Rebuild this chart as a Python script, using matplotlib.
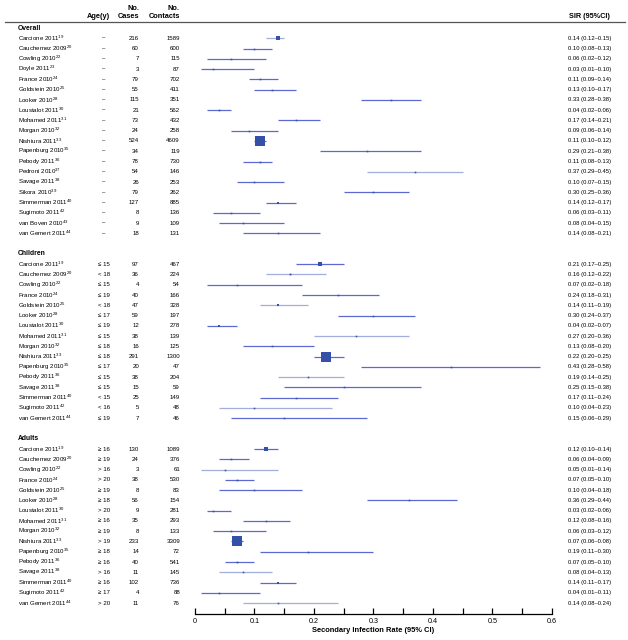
import numpy as np
from matplotlib import pyplot as plt
from matplotlib.lines import Line2D
from matplotlib.transforms import blended_transform_factory

plt.rcParams['font.family'] = ['Liberation Sans', 'DejaVu Sans']
plt.rcParams['mathtext.fontset'] = 'custom'
plt.rcParams['mathtext.rm'] = 'Liberation Sans'
plt.rcParams['mathtext.it'] = 'Liberation Sans:italic'
plt.rcParams['mathtext.bf'] = 'Liberation Sans:bold'

# ---- data ----
overall_study = ["Carcione 2011$^{19}$", "Cauchemez 2009$^{20}$", "Cowling 2010$^{22}$", "Doyle 2011$^{23}$",
                 "France 2010$^{24}$", "Goldstein 2010$^{25}$", "Looker 2010$^{28}$", "Loustalot 2011$^{30}$",
                 "Mohamed 2011$^{31}$", "Morgan 2010$^{32}$", "Nishiura 2011$^{33}$", "Papenburg 2010$^{35}$",
                 "Pebody 2011$^{36}$", "Pedroni 2010$^{37}$", "Savage 2011$^{38}$", "Sikora 2010$^{39}$",
                 "Simmerman 2011$^{40}$", "Sugimoto 2011$^{42}$", "van Boven 2010$^{43}$", "van Gemert 2011$^{44}$"]
overall_age = ["–"] * 20
overall_cases = [216, 60, 7, 3, 79, 55, 115, 21, 73, 24, 524, 34, 78, 54, 26, 79, 127, 8, 9, 18]
overall_contacts = [1589, 600, 115, 87, 702, 411, 351, 562, 432, 258, 4609, 119, 730, 146, 253, 262, 885, 136, 109, 131]
overall_sir = [0.14, 0.10, 0.06, 0.03, 0.11, 0.13, 0.33, 0.04, 0.17, 0.09, 0.11, 0.29, 0.11, 0.37, 0.10, 0.30, 0.14, 0.06, 0.08, 0.14]
overall_lo = [0.12, 0.08, 0.02, 0.01, 0.09, 0.10, 0.28, 0.02, 0.14, 0.06, 0.10, 0.21, 0.08, 0.29, 0.07, 0.25, 0.12, 0.03, 0.04, 0.08]
overall_hi = [0.15, 0.13, 0.12, 0.10, 0.14, 0.17, 0.38, 0.06, 0.21, 0.14, 0.12, 0.38, 0.13, 0.45, 0.15, 0.36, 0.17, 0.11, 0.15, 0.21]

sub_study = ["Carcione 2011$^{19}$", "Cauchemez 2009$^{20}$", "Cowling 2010$^{22}$", "France 2010$^{24}$",
             "Goldstein 2010$^{25}$", "Looker 2010$^{28}$", "Loustalot 2011$^{30}$", "Mohamed 2011$^{31}$",
             "Morgan 2010$^{32}$", "Nishiura 2011$^{33}$", "Papenburg 2010$^{35}$", "Pebody 2011$^{36}$",
             "Savage 2011$^{38}$", "Simmerman 2011$^{40}$", "Sugimoto 2011$^{42}$", "van Gemert 2011$^{44}$"]

children_age = ["≤ 15", "< 18", "≤ 15", "≤ 19", "< 18", "≤ 17", "≤ 19", "≤ 15",
                "≤ 18", "≤ 18", "≤ 17", "≤ 15", "≤ 15", "< 15", "< 16", "≤ 19"]
children_cases = [97, 36, 4, 40, 47, 59, 12, 38, 16, 291, 20, 38, 15, 25, 5, 7]
children_contacts = [467, 224, 54, 166, 328, 197, 278, 139, 125, 1300, 47, 204, 59, 149, 48, 46]
children_sir = [0.21, 0.16, 0.07, 0.24, 0.14, 0.30, 0.04, 0.27, 0.13, 0.22, 0.43, 0.19, 0.25, 0.17, 0.10, 0.15]
children_lo = [0.17, 0.12, 0.02, 0.18, 0.11, 0.24, 0.02, 0.20, 0.08, 0.20, 0.28, 0.14, 0.15, 0.11, 0.04, 0.06]
children_hi = [0.25, 0.22, 0.18, 0.31, 0.19, 0.37, 0.07, 0.36, 0.20, 0.25, 0.58, 0.25, 0.38, 0.24, 0.23, 0.29]

adults_age = ["≥ 16", "≥ 19", "> 16", "> 20", "≥ 19", "≥ 18", "> 20", "≥ 16",
              "≥ 19", "> 19", "≥ 18", "≥ 16", "> 16", "≥ 16", "≥ 17", "> 20"]
adults_cases = [130, 24, 3, 38, 8, 56, 9, 35, 8, 233, 14, 40, 11, 102, 4, 11]
adults_contacts = [1089, 376, 61, 530, 83, 154, 281, 293, 133, 3309, 72, 541, 145, 736, 88, 76]
adults_sir = [0.12, 0.06, 0.05, 0.07, 0.10, 0.36, 0.03, 0.12, 0.06, 0.07, 0.19, 0.07, 0.08, 0.14, 0.04, 0.14]
adults_lo = [0.10, 0.04, 0.01, 0.05, 0.04, 0.29, 0.02, 0.08, 0.03, 0.06, 0.11, 0.05, 0.04, 0.11, 0.01, 0.08]
adults_hi = [0.14, 0.09, 0.14, 0.10, 0.18, 0.44, 0.06, 0.16, 0.12, 0.08, 0.30, 0.10, 0.13, 0.17, 0.11, 0.24]

# rows drawn in the paler shade
light_overall = ["Pedroni 2010$^{37}$", "Carcione 2011$^{19}$"]
light_children = ["Cauchemez 2009$^{20}$", "Goldstein 2010$^{25}$", "Mohamed 2011$^{31}$",
                  "Pebody 2011$^{36}$", "Sugimoto 2011$^{42}$"]
light_adults = ["Cowling 2010$^{22}$", "Savage 2011$^{38}$", "van Gemert 2011$^{44}$"]

sections = [
    ("Overall", overall_study, overall_age, overall_cases, overall_contacts,
     overall_sir, overall_lo, overall_hi, light_overall),
    ("Children", sub_study, children_age, children_cases, children_contacts,
     children_sir, children_lo, children_hi, light_children),
    ("Adults", sub_study, adults_age, adults_cases, adults_contacts,
     adults_sir, adults_lo, adults_hi, light_adults),
]

W, H = 628, 640
fig = plt.figure(figsize=(W / 100, H / 100), dpi=100)
ax = fig.add_axes([195 / W, 26 / H, (551.7 - 195) / W, 614 / H])
ax.set_xlim(0, 0.6)
ax.set_ylim(57.06, -2.73)

tr = blended_transform_factory(fig.transFigure, ax.transData)


def fx(px):
    return px / W


line_col = "#5c6ad0"
light_col = "#a4aedc"
box_col = "#3550a8"

row = 0
for name, study, age, cases, contacts, sir, lo, hi, light in sections:
    ax.text(fx(18), row, name, transform=tr, fontsize=4.9, fontweight="bold", va="center", ha="left")
    row += 1
    cmax = max(contacts)
    for i in range(len(study)):
        y = row
        c = light_col if study[i] in light else line_col
        ax.plot([lo[i], hi[i]], [y, y], color=c, lw=0.9, solid_capstyle="butt", clip_on=False)
        side = max(10.5 * contacts[i] / cmax, 1.6)
        ax.plot(sir[i], y, marker="s", ms=side * 0.72, color=box_col, mec=box_col, mew=0, clip_on=False)
        ax.text(fx(18), y, study[i], transform=tr, fontsize=4.4, va="center", ha="left")
        ax.text(fx(104), y, age[i], transform=tr, fontsize=4.4, va="center", ha="center")
        ax.text(fx(139), y, str(cases[i]), transform=tr, fontsize=4.4, va="center", ha="right")
        ax.text(fx(180), y, str(contacts[i]), transform=tr, fontsize=4.4, va="center", ha="right")
        ax.text(fx(568), y, "%.2f (%.2f–%.2f)" % (sir[i], lo[i], hi[i]), transform=tr,
                fontsize=4.2, va="center", ha="left")
        row += 1
    row += 1

# column headers
ax.text(fx(98), -1.17, "Age(y)", transform=tr, fontsize=5.3, fontweight="bold", va="center", ha="center")
ax.text(fx(139), -1.95, "No.", transform=tr, fontsize=5.3, fontweight="bold", va="center", ha="right")
ax.text(fx(139), -1.17, "Cases", transform=tr, fontsize=5.3, fontweight="bold", va="center", ha="right")
ax.text(fx(180), -1.95, "No.", transform=tr, fontsize=5.3, fontweight="bold", va="center", ha="right")
ax.text(fx(180), -1.17, "Contacts", transform=tr, fontsize=5.3, fontweight="bold", va="center", ha="right")
ax.text(fx(569), -1.17, "SIR (95%CI)", transform=tr, fontsize=5.2, fontweight="bold", va="center", ha="left")
fig.add_artist(Line2D([5 / W, 625 / W], [1 - 21.7 / H, 1 - 21.7 / H], color="#555555", lw=0.9))

# x axis
for s in ["top", "left", "right"]:
    ax.spines[s].set_visible(False)
ax.spines["bottom"].set_linewidth(0.9)
ax.set_yticks([])
ax.set_xticks(np.arange(0, 0.61, 0.1))
ax.set_xticklabels(["0", "0.1", "0.2", "0.3", "0.4", "0.5", "0.6"])
ax.set_xticks(np.arange(0.05, 0.6, 0.1), minor=True)
ax.tick_params(axis="x", which="both", direction="in", length=4.5, width=0.9, labelsize=5.2, pad=3)
ax.set_xlabel("Secondary Infection Rate (95% CI)", fontsize=5.4, fontweight="bold", labelpad=1.5)

plt.savefig("out.png", dpi=100)
